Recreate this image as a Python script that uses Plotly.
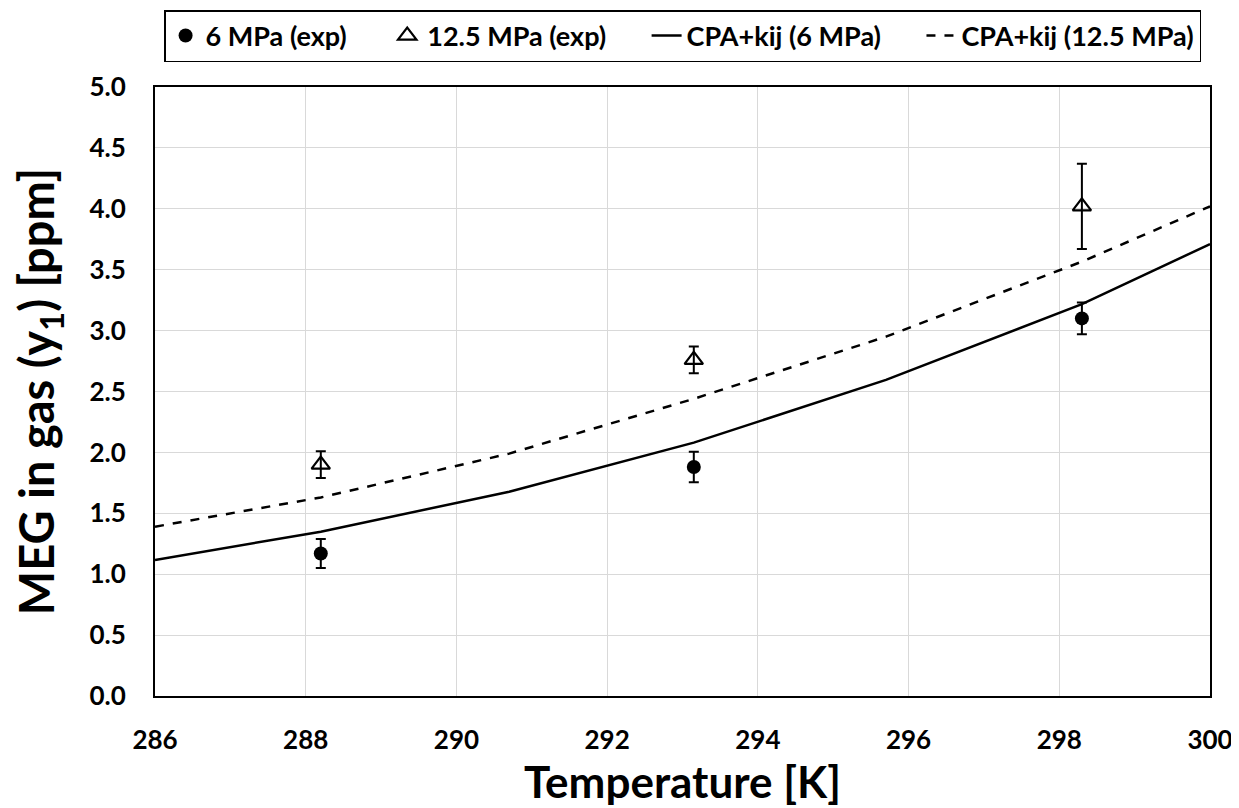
import plotly.graph_objects as go

# Experimental data
T_exp = [288.2, 293.15, 298.3]
y_6 = [1.17, 1.88, 3.10]
err_6 = [0.12, 0.125, 0.13]
y_125 = [1.90, 2.76, 4.02]
err_125 = [0.11, 0.11, 0.35]

# Model curves
T_model = [286.0, 288.2, 290.7, 293.15, 295.7, 298.3, 300.0]
cpa_6 = [1.117, 1.349, 1.677, 2.08, 2.595, 3.218, 3.71]
cpa_125 = [1.39, 1.63, 1.99, 2.44, 2.95, 3.566, 4.02]

names = ["6 MPa (exp)", "12.5 MPa (exp)", "CPA+kij (6 MPa)", "CPA+kij (12.5 MPa)"]

FONT = "Lato"
PAD = "\u2003\u2002\u200a"

fig = go.Figure()
fig.add_trace(go.Scatter(
    x=T_exp, y=y_6, mode="markers", name=names[0] + PAD,
    marker=dict(symbol="circle", size=14, color="black"),
    error_y=dict(type="data", array=err_6, color="black", thickness=2, width=5),
))
fig.add_trace(go.Scatter(
    x=T_exp, y=y_125, mode="markers", name=names[1] + PAD,
    marker=dict(symbol="triangle-up-open", size=16, color="black", line=dict(width=2.2, color="black")),
    error_y=dict(type="data", array=err_125, color="black", thickness=2, width=5),
))
fig.add_trace(go.Scatter(
    x=T_model, y=cpa_6, mode="lines", name=names[2] + PAD,
    line=dict(color="black", width=2.5),
))
fig.add_trace(go.Scatter(
    x=T_model, y=cpa_125, mode="lines", name=names[3],
    line=dict(color="black", width=2.5, dash="dash"),
))

fig.update_layout(
    width=1231, height=800,
    paper_bgcolor="white", plot_bgcolor="white",
    margin=dict(l=147, r=29, t=79, b=112),
    font=dict(family=FONT, color="black"),
    showlegend=True,
    legend=dict(
        orientation="h", xref="container", yref="container",
        x=0.548, xanchor="center", y=0.9975, yanchor="top",
        bordercolor="black", borderwidth=1.5, bgcolor="white",
        font=dict(family=FONT, size=27, weight="bold", color="black"),
        itemwidth=30,
    ),
)
fig.update_xaxes(
    range=[286, 300], dtick=2, tick0=286,
    showgrid=True, gridcolor="#d9d9d9", gridwidth=1,
    showline=True, linecolor="black", linewidth=2, mirror=True,
    ticks="", ticklabelstandoff=20, automargin=False,
    tickfont=dict(family=FONT, size=26, weight="bold", color="black"),
    title=dict(text="Temperature [K]", font=dict(family=FONT, size=44, weight="bold", color="black"), standoff=0),
    zeroline=False,
)
fig.update_yaxes(
    range=[0, 5], dtick=0.5, tick0=0, tickformat=".1f",
    showgrid=True, gridcolor="#d9d9d9", gridwidth=1,
    showline=True, linecolor="black", linewidth=2, mirror=True,
    ticks="", ticklabelstandoff=22, automargin=False,
    tickfont=dict(family=FONT, size=26, weight="bold", color="black"),
    title=dict(text="MEG in gas (y<sub>1</sub>) [ppm]", font=dict(family=FONT, size=47, weight="bold", color="black"), standoff=33),
    zeroline=False,
)

fig.write_html("out.html")
